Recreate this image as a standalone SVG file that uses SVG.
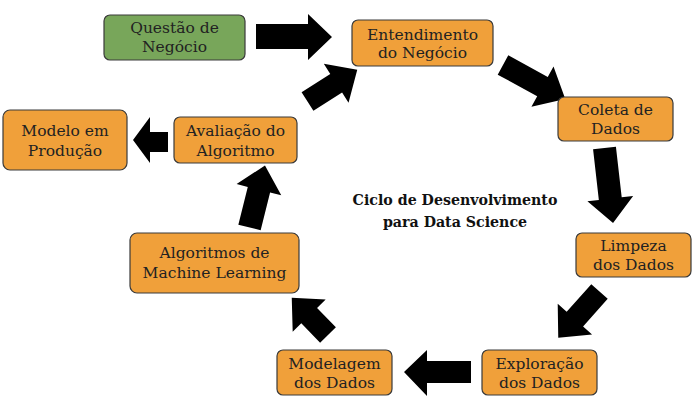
<svg xmlns="http://www.w3.org/2000/svg" width="695" height="403" viewBox="0 0 695 403">
<style>
.box{fill:#F0A03A;stroke:#3a3a3a;stroke-width:1.2}
.green{fill:#78A65A}
.t{font-family:"DejaVu Serif","Liberation Serif",serif;font-size:15.5px;fill:#222;text-anchor:middle}
.title{font-family:"DejaVu Serif","Liberation Serif",serif;font-size:14.2px;font-weight:bold;fill:#111;text-anchor:middle}
.arr{fill:#000}
</style>
<rect width="695" height="403" fill="#fff"/>
<g id="connectors">
<path class="arr" d="M256,24 L308,24 L308,14 L332,37 L308,60 L308,49 L256,49 Z"/>
<path class="arr" transform="translate(307.5,101.5) rotate(-32.5)" d="M0,-11 L34,-11 L34,-23 L59,0 L34,23 L34,11 L0,11 Z"/>
<path class="arr" transform="translate(503,65) rotate(28.7)" d="M0,-11 L45,-11 L45,-23 L71,0 L45,23 L45,11 L0,11 Z"/>
<path class="arr" transform="translate(604.5,148) rotate(83.5)" d="M0,-11.5 L51,-11.5 L51,-23 L75.5,0 L51,23 L51,11.5 L0,11.5 Z"/>
<path class="arr" transform="translate(599.5,291.5) rotate(131.7)" d="M0,-11 L37,-11 L37,-23 L62,0 L37,23 L37,11 L0,11 Z"/>
<path class="arr" d="M471,361 L427,361 L427,350 L404,372 L427,396 L427,383 L471,383 Z"/>
<path class="arr" transform="translate(328,335) rotate(225.8)" d="M0,-11 L27,-11 L27,-23 L52,0 L27,23 L27,11 L0,11 Z"/>
<path class="arr" transform="translate(249.5,227.5) rotate(-76)" d="M0,-11.5 L39,-11.5 L39,-23 L64,0 L39,23 L39,11.5 L0,11.5 Z"/>
<path class="arr" d="M168,132 L150,132 L150,117 L133,140 L150,163 L150,152 L168,152 Z"/>
</g>
<g id="questao"><rect class="box green" x="104" y="15" width="141" height="45" rx="6"/><text class="t" x="174.5" y="33">Questão de</text><text class="t" x="174.5" y="52">Negócio</text></g>
<g id="entendimento"><rect class="box" x="352" y="20" width="141" height="46" rx="6"/><text class="t" x="422.5" y="40">Entendimento</text><text class="t" x="422.5" y="58">do Negócio</text></g>
<g id="coleta"><rect class="box" x="558" y="97" width="115" height="44" rx="6"/><text class="t" x="615.5" y="115">Coleta de</text><text class="t" x="615.5" y="134">Dados</text></g>
<g id="limpeza"><rect class="box" x="576" y="233" width="115" height="44" rx="6"/><text class="t" x="633.5" y="251">Limpeza</text><text class="t" x="633.5" y="270">dos Dados</text></g>
<g id="exploracao"><rect class="box" x="482" y="350" width="115" height="45" rx="6"/><text class="t" x="539.5" y="369">Exploração</text><text class="t" x="539.5" y="388">dos Dados</text></g>
<g id="modelagem"><rect class="box" x="277" y="350" width="115" height="45" rx="6"/><text class="t" x="334.5" y="369">Modelagem</text><text class="t" x="334.5" y="388">dos Dados</text></g>
<g id="algoritmos"><rect class="box" x="130" y="233" width="169" height="60" rx="7"/><text class="t" x="214.5" y="258">Algoritmos de</text><text class="t" x="214.5" y="278">Machine Learning</text></g>
<g id="avaliacao"><rect class="box" x="174" y="117" width="123" height="46" rx="6"/><text class="t" x="235.5" y="136">Avaliação do</text><text class="t" x="235.5" y="156">Algoritmo</text></g>
<g id="modelo"><rect class="box" x="3" y="110" width="124" height="60" rx="7"/><text class="t" x="65" y="136">Modelo em</text><text class="t" x="65" y="156">Produção</text></g>
<g id="titulo"><text class="title" x="455" y="205">Ciclo de Desenvolvimento</text><text class="title" x="455" y="227">para Data Science</text></g>
</svg>
